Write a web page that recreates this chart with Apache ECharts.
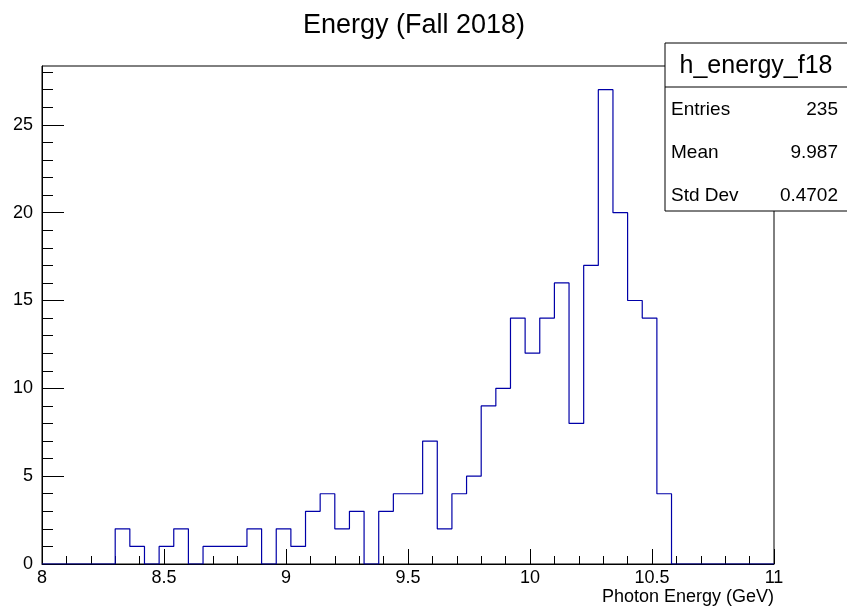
<!DOCTYPE html>
<html>
<head>
<meta charset="utf-8">
<script src="https://cdn.jsdelivr.net/npm/echarts@6/dist/echarts.min.js"></script>
<style>
html,body{margin:0;padding:0;background:#fff;}
#chart{width:847px;height:613px;}
</style>
</head>
<body>
<div id="chart"></div>
<script>
// Histogram definition
const xMin = 8.0;
const xMax = 11.0;
const binWidth = 0.06;
const counts = [0,0,0,0,0,2,1,0,1,2,0,1,1,1,2,0,2,1,3,4,2,3,0,3,4,4,7,2,4,5,9,10,14,12,14,16,8,17,27,20,15,14,4,0,0,0,0,0,0,0];
const xTicks = [8, 8.5, 9, 9.5, 10, 10.5, 11];
const yTicks = [0, 5, 10, 15, 20, 25];
const yMax = 28.35;
const titleText = 'Energy (Fall 2018)';
const xTitle = 'Photon Energy (GeV)';
const statsName = 'h_energy_f18';
const statsLabels = ['Entries', 'Mean', 'Std Dev'];
const statsValues = ['235', '9.987', '0.4702'];

// Build step outline from bins
const outline = [];
counts.forEach((c, i) => {
  const lo = +(xMin + i * binWidth).toFixed(4);
  const hi = +(xMin + (i + 1) * binWidth).toFixed(4);
  outline.push([lo, c]);
  outline.push([hi, c]);
});

const font = 'Liberation Sans, Arial, Helvetica, sans-serif';
const chart = echarts.init(document.getElementById('chart'), null, {renderer: 'canvas'});

const statsGraphics = [];
const bx = 665, by = 43, bw = 190, bh = 168;
statsGraphics.push({type: 'rect', shape: {x: bx, y: by, width: bw, height: bh}, style: {fill: '#fff', stroke: '#000', lineWidth: 1}, z: 100});
statsGraphics.push({type: 'line', shape: {x1: bx, y1: 87, x2: bx + bw, y2: 87}, style: {stroke: '#000', lineWidth: 1}, z: 101});
statsGraphics.push({type: 'text', x: 756, y: 66, style: {text: statsName, font: '25px ' + font, fill: '#000', textAlign: 'center', textVerticalAlign: 'middle'}, z: 101});
const rowY = [110, 153, 196];
statsLabels.forEach((lab, i) => {
  statsGraphics.push({type: 'text', x: 671, y: rowY[i], style: {text: lab, font: '19px ' + font, fill: '#000', textAlign: 'left', textVerticalAlign: 'middle'}, z: 101});
  statsGraphics.push({type: 'text', x: 838, y: rowY[i], style: {text: statsValues[i], font: '19px ' + font, fill: '#000', textAlign: 'right', textVerticalAlign: 'middle'}, z: 101});
});

chart.setOption({
  animation: false,
  backgroundColor: '#fff',
  title: {
    text: titleText, left: 409, top: 7, textAlign: 'center',
    textStyle: {fontFamily: font, fontSize: 27, fontWeight: 'normal', color: '#000'}
  },
  grid: {left: 42, right: 73, top: 66, bottom: 49, show: true, borderColor: '#000', borderWidth: 1, backgroundColor: 'transparent'},
  xAxis: {
    type: 'value', min: xMin, max: xMax, interval: 0.5,
    name: xTitle, nameLocation: 'end', nameGap: 0,
    nameTextStyle: {fontFamily: font, fontSize: 18, color: '#000', align: 'right', verticalAlign: 'top', padding: [24, 0, 0, 0]},
    axisLine: {show: true, lineStyle: {color: '#000', width: 1}},
    axisTick: {show: true, inside: true, length: 15, lineStyle: {color: '#000'}},
    minorTick: {show: true, splitNumber: 5, length: 8, lineStyle: {color: '#000'}},
    splitLine: {show: false},
    axisLabel: {fontFamily: font, fontSize: 18, color: '#000', margin: 5,
      formatter: v => xTicks.indexOf(+v) >= 0 ? String(+v) : ''}
  },
  yAxis: {
    type: 'value', min: 0, max: yMax, interval: 5,
    axisLine: {show: true, lineStyle: {color: '#000', width: 1}},
    axisTick: {show: true, inside: true, length: 22, customValues: yTicks, lineStyle: {color: '#000'}},
    minorTick: {show: true, splitNumber: 5, length: 11, lineStyle: {color: '#000'}},
    splitLine: {show: false},
    axisLabel: {fontFamily: font, fontSize: 18, color: '#000', margin: 9,
      formatter: v => yTicks.indexOf(+v) >= 0 ? String(+v) : ''}
  },
  series: [{
    type: 'line', data: outline, symbol: 'none', silent: true,
    lineStyle: {color: '#0000a8', width: 1.2},
    clip: true
  }],
  graphic: statsGraphics
});
</script>
</body>
</html>
